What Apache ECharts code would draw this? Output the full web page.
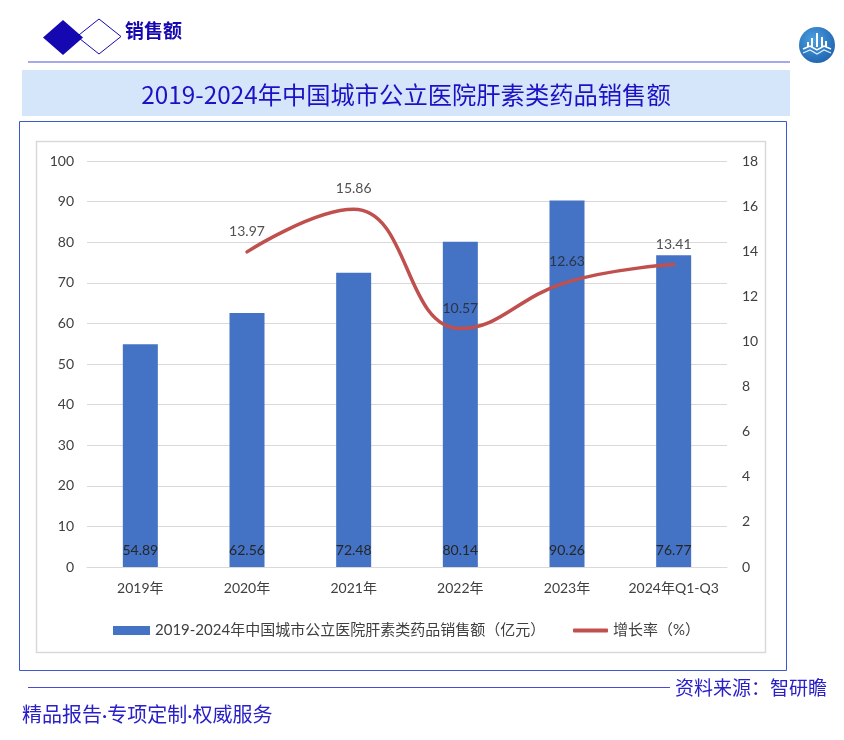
<!DOCTYPE html>
<html>
<head>
<meta charset="utf-8">
<script src="https://cdn.jsdelivr.net/npm/echarts@6/dist/echarts.min.js"></script>
<style>html,body{margin:0;padding:0;background:#fff;}#c{width:844px;height:740px;}</style>
</head>
<body>
<div id="c"></div>
<script>
const categories = ['2019年', '2020年', '2021年', '2022年', '2023年', '2024年Q1-Q3'];
const salesValues = [54.89, 62.56, 72.48, 80.14, 90.26, 76.77];
const growthValues = [null, 13.97, 15.86, 10.57, 12.63, 13.41];
const salesName = '2019-2024年中国城市公立医院肝素类药品销售额（亿元）';
const growthName = '增长率（%）';
const titleText = '2019-2024年中国城市公立医院肝素类药品销售额';
const headerText = '销售额';
const sourceText = '资料来源：智研瞻';
const sloganText = '精品报告·专项定制·权威服务';

const FONT = 'Lato, "Noto Sans CJK SC", sans-serif';
const CJK = '"Noto Sans CJK SC", sans-serif';
const chart = echarts.init(document.getElementById('c'), null, {renderer: 'canvas'});

const option = {
  backgroundColor: '#ffffff',
  animation: false,
  textStyle: {fontFamily: FONT},
  graphic: [
    {type: 'polygon', shape: {points: [[77,36.5],[99,19],[121,36.5],[99,54]]}, style: {fill: '#ffffff', stroke: '#1608b0', lineWidth: 1}},
    {type: 'polygon', shape: {points: [[43,37.5],[63,20],[83,37.5],[63,55]]}, style: {fill: '#1608b0'}},
    {type: 'text', left: 125, top: 21, style: {text: headerText, font: 'bold 19px ' + CJK, fill: '#1608b0'}},
    {type: 'line', shape: {x1: 28, y1: 62, x2: 790, y2: 62}, style: {stroke: '#5050d8', lineWidth: 1}},
    {type: 'circle', shape: {cx: 817, cy: 45, r: 18}, style: {fill: new echarts.graphic.RadialGradient(0.4, 0.35, 0.8, [{offset: 0, color: '#4aa0e0'}, {offset: 1, color: '#1a5aa8'}])}},
    {type: 'polyline', shape: {points: [[803,49],[810,46],[817,50],[824,46],[831,49]]}, style: {stroke: '#ffffff', lineWidth: 1.5, fill: null}},
    {type: 'polyline', shape: {points: [[803,53],[810,50],[817,54],[824,50],[831,53]]}, style: {stroke: '#dfefff', lineWidth: 1.2, fill: null}},
    {type: 'rect', shape: {x: 811, y: 38, width: 2, height: 9}, style: {fill: '#ffffff'}},
    {type: 'rect', shape: {x: 816, y: 33, width: 2, height: 14}, style: {fill: '#ffffff'}},
    {type: 'rect', shape: {x: 821, y: 37, width: 2, height: 10}, style: {fill: '#ffffff'}},
    {type: 'rect', shape: {x: 807, y: 42, width: 2, height: 5}, style: {fill: '#ffffff'}},
    {type: 'rect', shape: {x: 825, y: 41, width: 2, height: 6}, style: {fill: '#ffffff'}},
    {type: 'rect', shape: {x: 22, y: 70, width: 768, height: 46}, style: {fill: '#d6e6fa'}},
    {type: 'text', x: 406, y: 95, style: {text: titleText, font: '24.3px ' + CJK, fill: '#1e10c4', textAlign: 'center', textVerticalAlign: 'middle'}},
    {type: 'rect', shape: {x: 19.5, y: 121.5, width: 767, height: 549}, style: {fill: null, stroke: '#3a58d0', lineWidth: 1}, z: 10},
    {type: 'rect', shape: {x: 36.5, y: 141.5, width: 729, height: 511}, style: {fill: null, stroke: '#d9d9d9', lineWidth: 1.5}, z: 10},
    {type: 'line', shape: {x1: 28, y1: 687.5, x2: 670, y2: 687.5}, style: {stroke: '#4a4ad8', lineWidth: 1}},
    {type: 'text', x: 675, y: 688, style: {text: sourceText, font: '19px ' + CJK, fill: '#2a20c8', textAlign: 'left', textVerticalAlign: 'middle'}},
    {type: 'text', x: 22, y: 716, style: {text: sloganText, font: '20px ' + FONT, fill: '#2a20c8', textAlign: 'left', textVerticalAlign: 'middle'}}
  ],
  grid: {left: 87, right: 117, top: 161, bottom: 173, containLabel: false},
  legend: [
    {left: 108, top: 618, itemWidth: 37, itemHeight: 9, itemGap: 0,
     textStyle: {fontSize: 15, color: '#404040', fontFamily: FONT},
     data: [{name: salesName, icon: 'rect'}]},
    {left: 568, top: 618, itemWidth: 35, itemHeight: 4, itemGap: 0,
     textStyle: {fontSize: 15, color: '#404040', fontFamily: FONT},
     data: [{name: growthName, icon: 'roundRect'}]}
  ],
  xAxis: {
    type: 'category', data: categories,
    axisLine: {show: true, lineStyle: {color: '#d9d9d9', width: 1}},
    axisTick: {show: false},
    axisLabel: {color: '#404040', fontSize: 14, margin: 14, interval: 0, fontFamily: FONT}
  },
  yAxis: [
    {type: 'value', min: 0, max: 100, interval: 10,
     axisLine: {show: false}, axisTick: {show: false},
     axisLabel: {color: '#404040', fontSize: 14, margin: 13},
     splitLine: {lineStyle: {color: '#d9d9d9', width: 1}}},
    {type: 'value', min: 0, max: 18, interval: 2,
     axisLine: {show: false}, axisTick: {show: false},
     axisLabel: {color: '#404040', fontSize: 14, margin: 15},
     splitLine: {show: false}}
  ],
  series: [
    {name: salesName, type: 'bar', data: salesValues, barWidth: 35, yAxisIndex: 0,
     itemStyle: {color: '#4472c4'},
     label: {show: true, position: 'insideBottom', distance: 10, color: '#262626', fontSize: 14, fontFamily: FONT}},
    {name: growthName, type: 'line', data: growthValues, yAxisIndex: 1, smooth: 0.45,
     symbol: 'none', connectNulls: false, z: 3,
     lineStyle: {color: '#c0504d', width: 3.5, cap: 'round'},
     itemStyle: {color: '#c0504d'}},
    {name: 'growthLabels', type: 'scatter', data: growthValues, yAxisIndex: 1,
     symbolSize: 1, itemStyle: {color: 'rgba(0,0,0,0)'}, z: 4, silent: true,
     label: {show: true, position: 'top', distance: 13, color: '#262626', fontSize: 14, fontFamily: FONT}}
  ]
};
chart.setOption(option);
</script>
</body>
</html>
